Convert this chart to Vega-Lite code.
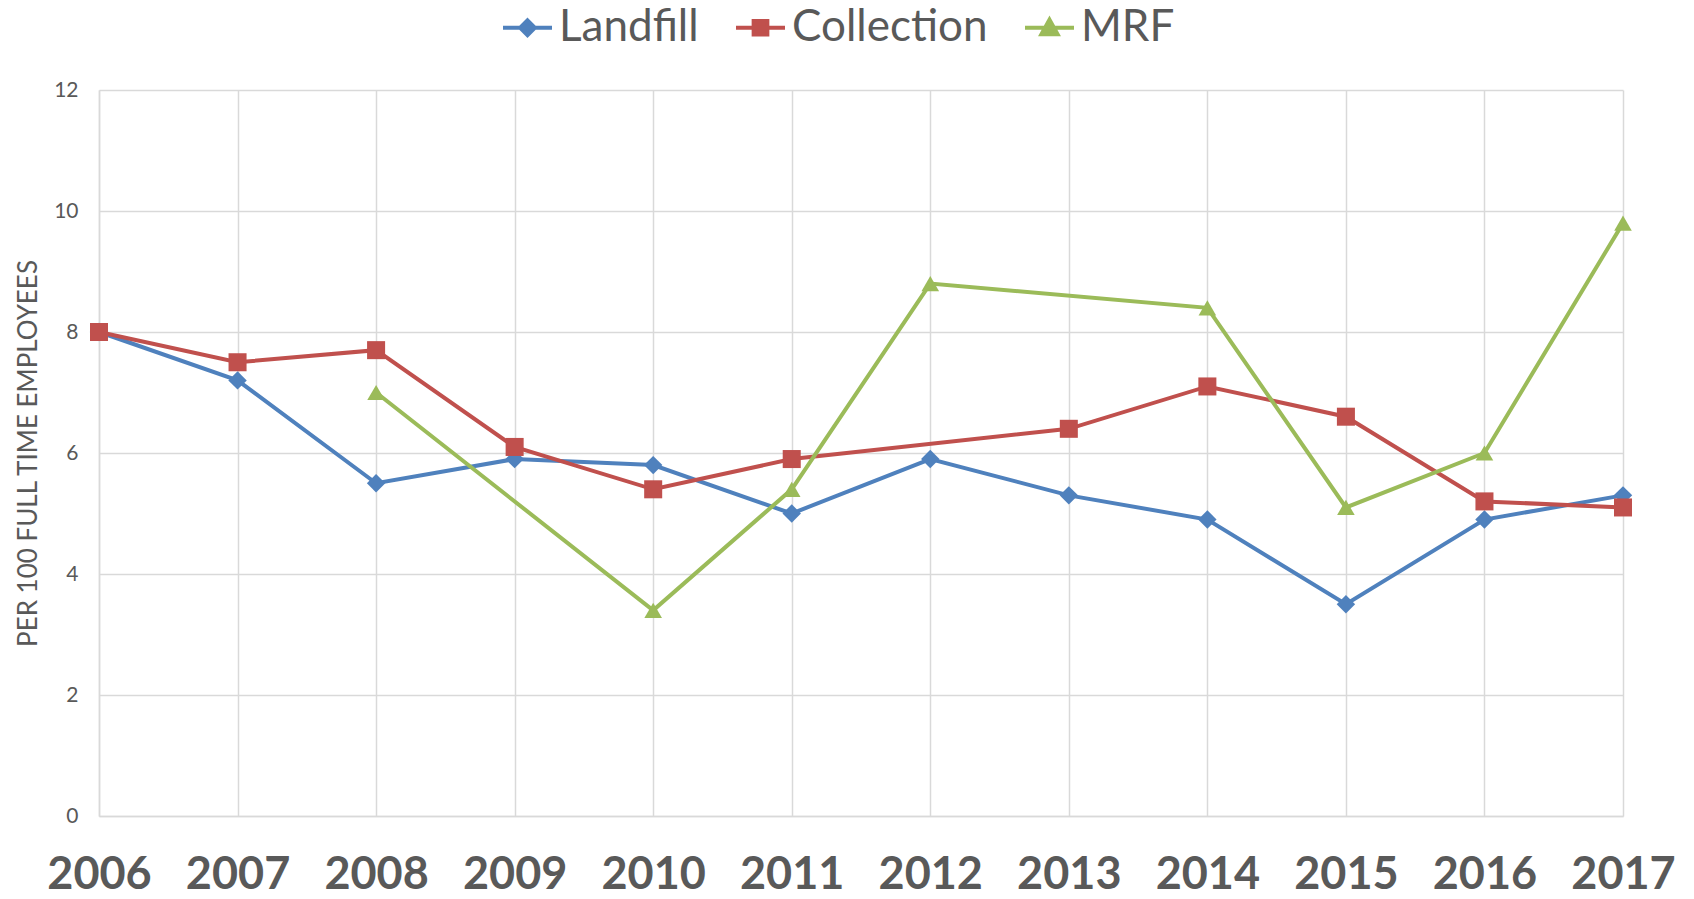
{
  "$schema": "https://vega.github.io/schema/vega-lite/v6.json",
  "width": 1524,
  "height": 726,
  "autosize": "none",
  "padding": {"left": 99, "top": 90, "right": 71, "bottom": 83},
  "background": "white",
  "config": {
    "view": {"stroke": null},
    "font": "Lato, sans-serif"
  },
  "data": {
    "values": [
      {"year": 2006, "series": "Landfill", "value": 8.0},
      {"year": 2007, "series": "Landfill", "value": 7.2},
      {"year": 2008, "series": "Landfill", "value": 5.5},
      {"year": 2009, "series": "Landfill", "value": 5.9},
      {"year": 2010, "series": "Landfill", "value": 5.8},
      {"year": 2011, "series": "Landfill", "value": 5.0},
      {"year": 2012, "series": "Landfill", "value": 5.9},
      {"year": 2013, "series": "Landfill", "value": 5.3},
      {"year": 2014, "series": "Landfill", "value": 4.9},
      {"year": 2015, "series": "Landfill", "value": 3.5},
      {"year": 2016, "series": "Landfill", "value": 4.9},
      {"year": 2017, "series": "Landfill", "value": 5.3},
      {"year": 2006, "series": "Collection", "value": 8.0},
      {"year": 2007, "series": "Collection", "value": 7.5},
      {"year": 2008, "series": "Collection", "value": 7.7},
      {"year": 2009, "series": "Collection", "value": 6.1},
      {"year": 2010, "series": "Collection", "value": 5.4},
      {"year": 2011, "series": "Collection", "value": 5.9},
      {"year": 2013, "series": "Collection", "value": 6.4},
      {"year": 2014, "series": "Collection", "value": 7.1},
      {"year": 2015, "series": "Collection", "value": 6.6},
      {"year": 2016, "series": "Collection", "value": 5.2},
      {"year": 2017, "series": "Collection", "value": 5.1},
      {"year": 2008, "series": "MRF", "value": 7.0},
      {"year": 2010, "series": "MRF", "value": 3.4},
      {"year": 2011, "series": "MRF", "value": 5.4},
      {"year": 2012, "series": "MRF", "value": 8.8},
      {"year": 2014, "series": "MRF", "value": 8.4},
      {"year": 2015, "series": "MRF", "value": 5.1},
      {"year": 2016, "series": "MRF", "value": 6.0},
      {"year": 2017, "series": "MRF", "value": 9.8}
    ]
  },
  "encoding": {
    "x": {
      "field": "year",
      "type": "quantitative",
      "scale": {"domain": [2006, 2017], "nice": false, "zero": false},
      "axis": {
        "title": null,
        "values": [2006, 2007, 2008, 2009, 2010, 2011, 2012, 2013, 2014, 2015, 2016, 2017],
        "format": "d",
        "grid": true,
        "gridColor": "#D9D9D9",
        "gridWidth": 1.5,
        "domainColor": "#D9D9D9",
        "domainWidth": 1.5,
        "ticks": false,
        "labelFont": "Lato, sans-serif",
        "labelFontSize": 45,
        "labelFontWeight": "bold",
        "labelColor": "#595959",
        "labelBaseline": "alphabetic",
        "labelPadding": 72,
        "labelFlush": false,
        "labelOverlap": false
      }
    },
    "y": {
      "field": "value",
      "type": "quantitative",
      "scale": {"domain": [0, 12], "nice": false},
      "axis": {
        "title": "PER 100 FULL TIME EMPLOYEES",
        "values": [0, 2, 4, 6, 8, 10, 12],
        "grid": true,
        "gridColor": "#D9D9D9",
        "gridWidth": 1.5,
        "domainColor": "#D9D9D9",
        "domainWidth": 1.5,
        "ticks": false,
        "labelFont": "Lato, sans-serif",
        "labelFontSize": 21,
        "labelColor": "#595959",
        "labelPadding": 21,
        "titleFont": "Lato, sans-serif",
        "titleFontSize": 26,
        "titleFontWeight": "normal",
        "titleColor": "#595959",
        "titlePadding": 12
      }
    }
  },
  "resolve": {"legend": {"color": "independent"}},
  "layer": [
    {
      "mark": {"type": "line", "strokeWidth": 4},
      "encoding": {
        "color": {
          "field": "series",
          "type": "nominal",
          "scale": {"domain": ["Landfill", "Collection", "MRF"], "range": ["#4F81BD", "#C0504D", "#9BBB59"]},
          "legend": {
            "title": null,
            "orient": "none",
            "legendX": 402,
            "legendY": -89,
            "direction": "horizontal",
            "columnPadding": 29,
            "labelOffset": 5,
            "labelFont": "Lato, sans-serif",
            "labelFontSize": 44,
            "labelColor": "#595959",
            "labelLimit": 0,
            "symbolSize": 2401,
            "symbolStrokeWidth": 4,
            "encode": {
              "symbols": {
                "update": {
                  "shape": {"signal": "datum.value === 'Landfill' ? 'M-1,0L1,0M0,-0.3L0.3,0L0,0.3L-0.3,0Z' : datum.value === 'Collection' ? 'M-1,0L1,0M-0.28,-0.28L0.28,-0.28L0.28,0.28L-0.28,0.28Z' : 'M-1,0L1,0M0,-0.33L0.33,0.27L-0.33,0.27Z'"},
                  "fill": {"scale": "color", "field": "value"},
                  "stroke": {"scale": "color", "field": "value"},
                  "strokeWidth": {"value": 4},
                  "strokeOpacity": {"value": 1},
                  "fillOpacity": {"value": 1},
                  "opacity": {"value": 1}
                }
              }
            }
          }
        }
      }
    },
    {
      "mark": {"type": "point", "filled": true, "opacity": 1},
      "encoding": {
        "color": {
          "field": "series",
          "type": "nominal",
          "legend": null
        },
        "shape": {
          "field": "series",
          "type": "nominal",
          "scale": {"domain": ["Landfill", "Collection", "MRF"], "range": ["diamond", "square", "triangle-up"]},
          "legend": null
        },
        "size": {
          "field": "series",
          "type": "nominal",
          "scale": {"domain": ["Landfill", "Collection", "MRF"], "range": [340, 310, 300]},
          "legend": null
        }
      }
    }
  ]
}
